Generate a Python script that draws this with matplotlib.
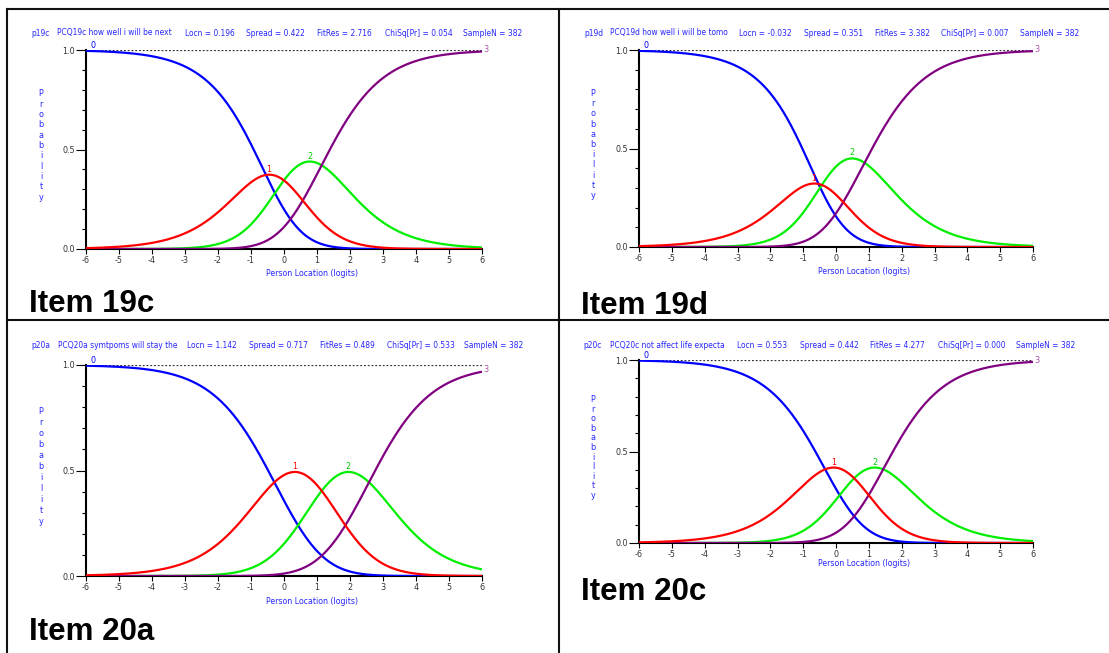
import numpy as np
import matplotlib.pyplot as plt
from matplotlib.lines import Line2D
from matplotlib.ticker import MultipleLocator

# ---- item statistics shown in each panel header ----
codes = ["p19c", "p19d", "p20a", "p20c"]
descs = ["PCQ19c how well i will be next", "PCQ19d how well i will be tomo",
         "PCQ20a symtpoms will stay the", "PCQ20c not affect life expecta"]
locn = [0.196, -0.032, 1.142, 0.553]
spread = [0.422, 0.351, 0.717, 0.442]
fitres = [2.716, 3.382, 0.489, 4.277]
chisq = [0.054, 0.007, 0.533, 0.000]
sample_n = [382, 382, 382, 382]
skew = [0.05, 0.10, 0.0, 0.0]
item_names = ["Item 19c", "Item 19d", "Item 20a", "Item 20c"]

x_ticks = list(range(-6, 7))
y_ticks = [0.0, 0.5, 1.0]
y_tick_labels = ["0.0", "0.5", "1.0"]

W, H = 1109, 653
fig = plt.figure(figsize=(W / 100, H / 100), dpi=100)
fig.patch.set_facecolor("white")

BLUE_TXT = "#2828ff"
CAT_COLORS = ["#0000ff", "#ff0000", "#00ee00", "#800080"]
CAT_LABEL_COLORS = ["#0000ff", "#ff0000", "#00cc00", "#b050b0"]
FONT = dict(family="DejaVu Sans", stretch="condensed")

# axes boxes in pixels: (x at -6, x at 6, y at 1.0, y at 0.0)
boxes = [(86, 482, 50, 249), (639, 1033, 50, 247),
         (86, 482, 365, 576), (639, 1033, 360, 543)]
header_y = [33, 33, 346, 345]
header_x = [[31, 57, 185, 246, 317, 385, 463],
            [584, 610, 739, 804, 875, 941, 1020],
            [31, 58, 187, 249, 320, 387, 464],
            [583, 610, 737, 800, 870, 938, 1016]]
xlabel_y = [274, 271, 602, 564]
item_xy = [(29, 312), (581, 314), (29, 640), (581, 600)]
prob_x = [41, 593, 41, 593]


def fx(px):
    return px / W


def fy(py):
    return 1 - py / H


def item_thresholds(loc, spr, skw):
    # thresholds from location, spread and skewness (three thresholds)
    return [loc - 2 * spr + 2 * skw, loc - 4 * skw, loc + 2 * spr + 2 * skw]


def category_probs(theta, thr):
    # partial credit category probabilities
    cum = np.zeros((len(thr) + 1, theta.size))
    for k, t in enumerate(thr):
        cum[k + 1] = cum[k] + (theta - t)
    e = np.exp(cum - cum.max(axis=0))
    return e / e.sum(axis=0)


theta = np.linspace(-6, 6, 481)

for i in range(4):
    x0, x1, y1, y0 = boxes[i]
    ax = fig.add_axes([fx(x0), fy(y0), fx(x1 - x0), (y0 - y1) / H])
    ax.set_xlim(-6, 6)
    ax.set_ylim(0, 1)
    for s in ["top", "right"]:
        ax.spines[s].set_visible(False)
    for s in ["left", "bottom"]:
        ax.spines[s].set_linewidth(1.5)
        ax.spines[s].set_color("black")
        ax.spines[s].set_zorder(1)

    ax.axhline(1.0, color="#333333", lw=0.9, ls=(0, (1.5, 1.5)), zorder=1)

    thr = item_thresholds(locn[i], spread[i], skew[i])
    probs = category_probs(theta, thr)
    for k in range(4):
        ax.plot(theta, probs[k], color=CAT_COLORS[k], lw=1.6, zorder=3 + (k == 1),
                solid_capstyle="butt")

    # category labels
    ax.text(-5.8, probs[0][0] + 0.005, "0", color=CAT_LABEL_COLORS[0], fontsize=6.5,
            ha="center", va="bottom", **FONT)
    ax.text(6.04, probs[3][-1] + 0.01, "3", color=CAT_LABEL_COLORS[3], fontsize=6.5,
            ha="left", va="center", clip_on=False, **FONT)
    for k in (1, 2):
        j = int(np.argmax(probs[k]))
        ax.text(theta[j], probs[k][j] + 0.005, str(k), color=CAT_LABEL_COLORS[k],
                fontsize=6.5, ha="center", va="bottom", **FONT)

    ax.set_xticks(x_ticks)
    ax.set_xticklabels([str(v) for v in x_ticks])
    ax.set_yticks(y_ticks)
    ax.set_yticklabels(y_tick_labels)
    ax.yaxis.set_minor_locator(MultipleLocator(0.1))
    ax.tick_params(axis="y", which="major", length=7, width=0.8, pad=1,
                   labelsize=6.5, labelcolor="#333333")
    ax.tick_params(axis="y", which="minor", length=3, width=0.8)
    ax.tick_params(axis="x", which="major", length=3.5, width=0.8, pad=1.5,
                   labelsize=6.5, labelcolor="#333333")
    for lab in ax.get_xticklabels() + ax.get_yticklabels():
        lab.set_fontstretch("condensed")
    ax.patch.set_alpha(0)

    # header line
    pieces = [codes[i], descs[i], f"Locn = {locn[i]:.3f}", f"Spread = {spread[i]:.3f}",
              f"FitRes = {fitres[i]:.3f}", f"ChiSq[Pr] = {chisq[i]:.3f}",
              f"SampleN = {sample_n[i]}"]
    for px, txt in zip(header_x[i], pieces):
        fig.text(fx(px), fy(header_y[i]), txt, color=BLUE_TXT, fontsize=6.0,
                 ha="left", va="center", **FONT)

    # x axis title
    xc = x0 + (0.85 + 6) / 12 * (x1 - x0)
    fig.text(fx(xc), fy(xlabel_y[i]), "Person Location (logits)", color=BLUE_TXT,
             fontsize=6.3, ha="center", va="center", **FONT)

    # stacked y axis title
    mid = (y0 + y1) / 2 - 4
    step = 0.052 * (y0 - y1)
    for n, ch in enumerate("Probability"):
        fig.text(fx(prob_x[i]), fy(mid + (n - 5) * step), ch, color=BLUE_TXT,
                 fontsize=6.5, ha="center", va="center", **FONT)

    # panel caption
    fig.text(fx(item_xy[i][0]), fy(item_xy[i][1]), item_names[i], fontsize=22.5,
             fontweight="bold", family="Liberation Sans", ha="left", va="baseline")

# grid frame
frame = dict(color="#111111", lw=1.5, transform=fig.transFigure)
fig.add_artist(Line2D([fx(7), 1], [fy(9), fy(9)], **frame))
fig.add_artist(Line2D([fx(7), 1], [fy(320), fy(320)], **frame))
fig.add_artist(Line2D([fx(7), fx(7)], [fy(9), 0], **frame))
fig.add_artist(Line2D([fx(559), fx(559)], [fy(9), 0], **frame))

fig.savefig("out.png", dpi=100, facecolor="white")
